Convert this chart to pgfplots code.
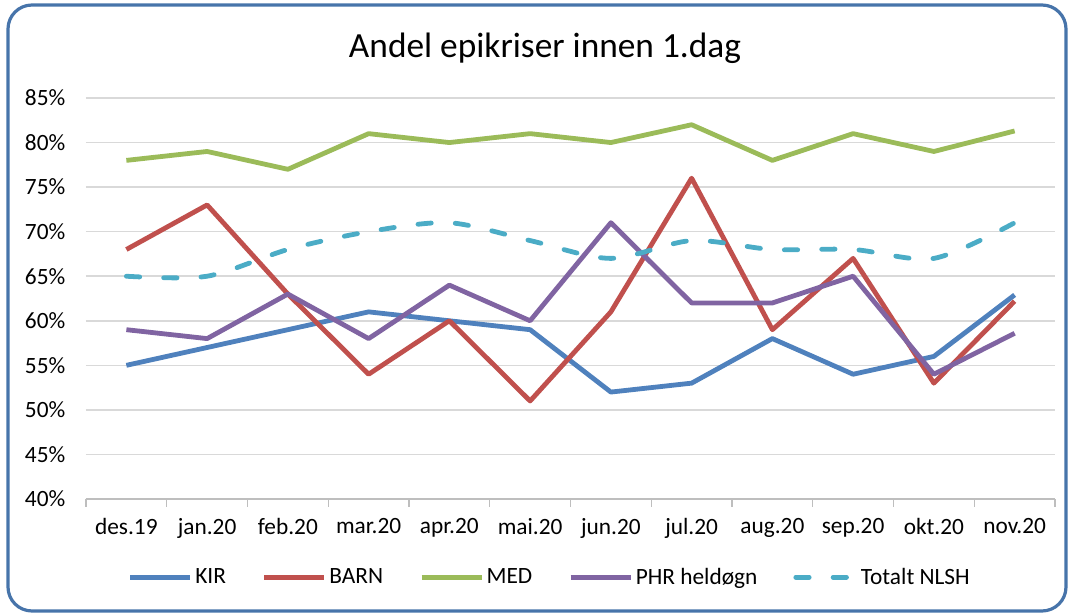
\documentclass[border=0pt]{standalone}
\usepackage{fontspec}
\setmainfont{Carlito}
\usepackage{pgfplots}
\pgfplotsset{compat=1.18}

\definecolor{kir}{HTML}{4F81BD}
\definecolor{barn}{HTML}{C0504D}
\definecolor{med}{HTML}{9BBB59}
\definecolor{phr}{HTML}{8064A2}
\definecolor{tot}{HTML}{4BACC6}
\definecolor{gridgray}{HTML}{D9D9D9}

\begin{document}
\begin{tikzpicture}
% canvas 1072 x 614 px, 1px = 0.75pt
\useasboundingbox (0pt,0pt) rectangle (804pt,460.5pt);
\draw[kir!90!black, line width=2.4pt, rounded corners=18pt] (6pt,2.25pt) rectangle (799.5pt,456.75pt);
\node[font=\fontsize{26.5}{30}\selectfont] at (408.75pt,424.5pt) {Andel epikriser innen 1.dag};

\begin{axis}[
    at={(64.5pt,86.25pt)}, anchor=south west,
    scale only axis,
    width=726.75pt, height=300.75pt,
    xmin=-0.5, xmax=11.5,
    ymin=40, ymax=85,
    xtick={0,...,11},
    xticklabels={des.19,jan.20,feb.20,mar.20,apr.20,mai.20,jun.20,jul.20,aug.20,sep.20,okt.20,nov.20},
    extra x ticks={-0.5,0.5,...,11.5},
    extra x tick labels={},
    extra x tick style={major tick length=6pt, tick style={gridgray!70!gray, line width=1pt}, tick align=outside},
    ytick={40,45,...,85},
    yticklabels={40\%,45\%,50\%,55\%,60\%,65\%,70\%,75\%,80\%,85\%},
    ymajorgrids, grid style={gridgray, line width=1.1pt},
    major tick length=0pt,
    axis x line*=bottom,
    x axis line style={draw=gridgray!70!gray, line width=1pt, -},
    axis y line*=left,
    y axis line style={draw=none},
    ticklabel style={font=\fontsize{17.5}{20}\selectfont},
    xticklabel style={yshift=-11pt},
    yticklabel style={xshift=-12pt},
    clip=false,
    legend columns=5,
    legend style={at={(0.479,-0.195)}, anchor=center, draw=none, fill=none,
        font=\fontsize{17.5}{20}\selectfont,
        /tikz/every even column/.append style={column sep=25pt}},
    legend image code/.code={\draw[#1] (0pt,0pt) -- (45pt,0pt);},
    every axis plot/.append style={line width=3.6pt, line join=round},
]

\addplot[kir] coordinates {(0,55)(1,57)(2,59)(3,61)(4,60)(5,59)(6,52)(7,53)(8,58)(9,54)(10,56)(11,62.9)};
\addlegendentry{KIR}
\addplot[barn] coordinates {(0,68)(1,73)(2,63)(3,54)(4,60)(5,51)(6,61)(7,76)(8,59)(9,67)(10,53)(11,62.2)};
\addlegendentry{BARN}
\addplot[med] coordinates {(0,78)(1,79)(2,77)(3,81)(4,80)(5,81)(6,80)(7,82)(8,78)(9,81)(10,79)(11,81.3)};
\addlegendentry{MED}
\addplot[phr] coordinates {(0,59)(1,58)(2,63)(3,58)(4,64)(5,60)(6,71)(7,62)(8,62)(9,65)(10,54)(11,58.6)};
\addlegendentry{PHR heldøgn}
\addplot[tot, smooth, tension=0.5, line cap=round, dash pattern=on 10pt off 18pt] coordinates {(0,65)(1,65)(2,68)(3,70)(4,71)(5,69)(6,67)(7,69)(8,68)(9,68)(10,67)(11,71)};
\addlegendentry{Totalt NLSH}
\end{axis}
\end{tikzpicture}
\end{document}
